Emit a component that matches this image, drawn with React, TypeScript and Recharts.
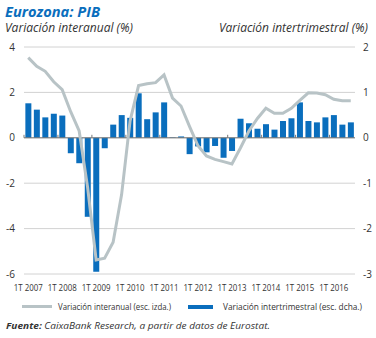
import React from 'react';
import { ComposedChart, Bar, Line, XAxis, YAxis, CartesianGrid, ReferenceLine } from 'recharts';

// Trimestres 1T 2007 - 3T 2016
const categories = [
  '1T 2007', '2T 2007', '3T 2007', '4T 2007',
  '1T 2008', '2T 2008', '3T 2008', '4T 2008',
  '1T 2009', '2T 2009', '3T 2009', '4T 2009',
  '1T 2010', '2T 2010', '3T 2010', '4T 2010',
  '1T 2011', '2T 2011', '3T 2011', '4T 2011',
  '1T 2012', '2T 2012', '3T 2012', '4T 2012',
  '1T 2013', '2T 2013', '3T 2013', '4T 2013',
  '1T 2014', '2T 2014', '3T 2014', '4T 2014',
  '1T 2015', '2T 2015', '3T 2015', '4T 2015',
  '1T 2016', '2T 2016', '3T 2016',
];

// Variación interanual (%), escala izquierda
const interanual = [
  3.53, 3.15, 2.93, 2.47,
  2.12, 1.15, 0.3, -2.2,
  -5.38, -5.3, -4.6, -2.5,
  0.75, 2.3, 2.38, 2.43,
  2.77, 1.75, 1.4, 0.5,
  -0.35, -0.8, -0.95, -1.05,
  -1.15, -0.45, 0.3, 0.85,
  1.3, 1.08, 1.08, 1.3,
  1.65, 1.98, 1.97, 1.9,
  1.7, 1.63, 1.63,
];

// Variación intertrimestral (%), escala derecha
const intertrimestral = [
  0.76, 0.62, 0.45, 0.53,
  0.49, -0.34, -0.56, -1.74,
  -2.95, -0.23, 0.29, 0.5,
  0.44, 0.98, 0.41, 0.56,
  0.78, 0.01, 0.03, -0.36,
  -0.19, -0.32, -0.18, -0.44,
  -0.29, 0.42, 0.32, 0.2,
  0.3, 0.18, 0.37, 0.43,
  0.78, 0.37, 0.34, 0.45,
  0.5, 0.29, 0.34,
];

const yearTicks = ['1T 2007', '1T 2008', '1T 2009', '1T 2010', '1T 2011', '1T 2012', '1T 2013', '1T 2014', '1T 2015', '1T 2016'];
const leftTicks = [-6, -4, -2, 0, 2, 4];
const rightTicks = [-3, -2, -1, 0, 1, 2];

const data = categories.map((q, i) => ({ q, interanual: interanual[i], intertrimestral: intertrimestral[i] }));

const FONT = '"Open Sans", sans-serif';
const BLUE = '#0a6ebd';
const GREY_LINE = '#b8c3c6';

const XTick = (props: any) => {
  const { x, y, payload } = props;
  return (
    <text x={x} y={y} dy={9} textAnchor="middle" fontSize={9.5} fill="#333" fontFamily={FONT}
      textLength={29} lengthAdjust="spacingAndGlyphs">
      {payload.value}
    </text>
  );
};

// zero line with small marks at the start of each year
const ZeroLine = (props: any) => {
  const { x1, x2, y1 } = props;
  const step = ((x2 - x1) / categories.length) * 4;
  const marks = [];
  for (let k = 0; k * 4 < categories.length; k++) {
    const x = x1 + k * step;
    marks.push(<line key={k} x1={x} x2={x} y1={y1} y2={y1 - 3} stroke="#777" strokeWidth={1} />);
  }
  return (
    <g>
      <line x1={x1} x2={x2} y1={y1} y2={y1} stroke="#777" strokeWidth={1} />
      {marks}
    </g>
  );
};

const App = () => {
  return (
    <div style={{ position: 'absolute', left: 0, top: 0, width: 376, height: 338, background: '#fff' }}>
      <ComposedChart width={376} height={300} data={data} margin={{ top: 47, right: 0, bottom: 0, left: 0 }} barCategoryGap="16%">
        <CartesianGrid vertical={false} yAxisId="left" stroke="#d2d2d2" />
        <XAxis dataKey="q" ticks={yearTicks} interval={0} tickLine={false} axisLine={false} height={26} tick={<XTick />} />
        <YAxis yAxisId="left" domain={[-6, 4]} ticks={leftTicks} width={24} axisLine={false} tickLine={false}
          tickSize={0} tickMargin={9} tick={{ fontSize: 10, fill: '#333', fontFamily: FONT }} />
        <YAxis yAxisId="right" orientation="right" domain={[-3, 2]} ticks={rightTicks} width={21} axisLine={false}
          tickLine={false} tickSize={0} tickMargin={8} tick={{ fontSize: 10, fill: '#333', fontFamily: FONT }} />
        <Bar yAxisId="right" dataKey="intertrimestral" fill={BLUE} isAnimationActive={false} />
        <ReferenceLine yAxisId="left" y={0} shape={<ZeroLine />} />
        <Line yAxisId="left" type="linear" dataKey="interanual" stroke={GREY_LINE} strokeWidth={3} dot={false} isAnimationActive={false} />
      </ComposedChart>
      <svg width={376} height={338} style={{ position: 'absolute', left: 0, top: 0, pointerEvents: 'none' }} fontFamily={FONT}>
        <text x={5} y={17} fontSize={15} fontWeight="bold" fontStyle="italic" fill={BLUE} textLength={95} lengthAdjust="spacingAndGlyphs">
          Eurozona: PIB
        </text>
        <text x={5} y={32} fontSize={12.5} fontStyle="italic" fill="#333" textLength={128} lengthAdjust="spacingAndGlyphs">
          Variación interanual (%)
        </text>
        <text x={368} y={32} fontSize={12.5} fontStyle="italic" fill="#333" textAnchor="end" textLength={149} lengthAdjust="spacingAndGlyphs">
          Variación intertrimestral (%)
        </text>
        <line x1={22} x2={52} y1={306.5} y2={306.5} stroke={GREY_LINE} strokeWidth={3} />
        <text x={58} y={309.5} fontSize={8.5} fill="#333" textLength={113} lengthAdjust="spacingAndGlyphs">
          Variación interanual (esc. izda.)
        </text>
        <rect x={188} y={305} width={25} height={4} fill={BLUE} />
        <text x={362} y={309.5} fontSize={8.5} fill="#333" textAnchor="end" textLength={139} lengthAdjust="spacingAndGlyphs">
          Variación intertrimestral (esc. dcha.)
        </text>
        <text x={6} y={329} fontSize={9.5} fill="#333" fontStyle="italic" textLength={264} lengthAdjust="spacingAndGlyphs">
          <tspan fontWeight="bold">Fuente:</tspan> CaixaBank Research, a partir de datos de Eurostat.
        </text>
      </svg>
    </div>
  );
};

export default App;
